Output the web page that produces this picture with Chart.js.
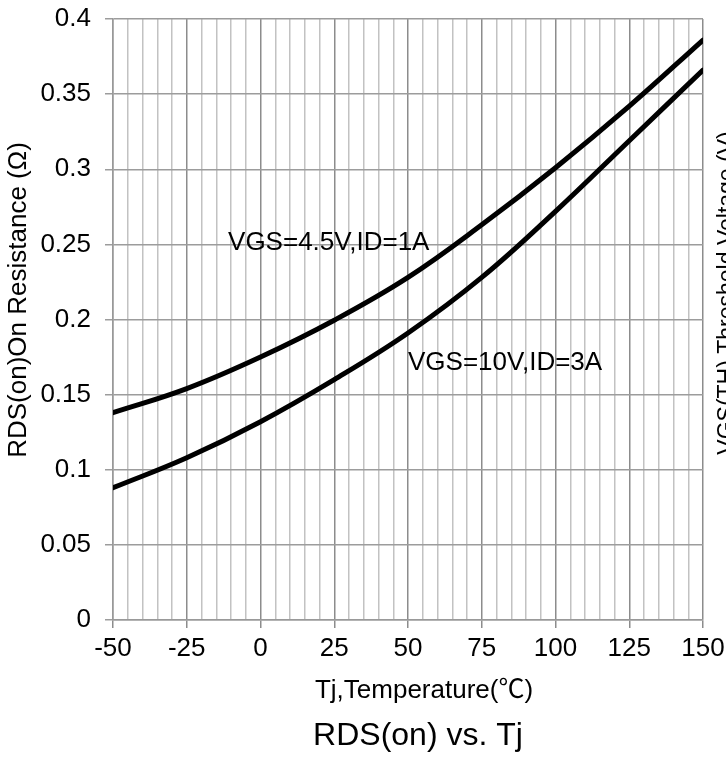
<!DOCTYPE html>
<html>
<head>
<meta charset="utf-8">
<script src="https://cdn.jsdelivr.net/npm/chart.js@4"></script>
<style>
  html, body { margin: 0; padding: 0; background: #fff; }
  canvas { display: block; }
</style>
</head>
<body>
<canvas id="c" width="726" height="762"></canvas>
<script>
const temps = [-50, -25, 0, 25, 50, 75, 100, 125, 150];
const rdsVgs45 = [0.138, 0.154, 0.175, 0.1995, 0.228, 0.263, 0.301, 0.342, 0.386];
const rdsVgs10 = [0.088, 0.108, 0.132, 0.160, 0.191, 0.228, 0.272, 0.319, 0.366];
const seriesNames = ['VGS=4.5V,ID=1A', 'VGS=10V,ID=3A'];
const xTickLabels = ['-50', '-25', '0', '25', '50', '75', '100', '125', '150'];
const yTickLabels = ['0', '0.05', '0.1', '0.15', '0.2', '0.25', '0.3', '0.35', '0.4'];
const labelX = [-11, 50];
const labelY = [0.251, 0.171];
const chartTitle = 'RDS(on) vs. Tj';
const xTitle = 'Tj,Temperature(℃)';
const yTitle = 'RDS(on)On Resistance (Ω)';
const rightTitle = 'VGS(TH) Threshold Voltage (V)';

const FONT = "'Liberation Sans', Arial, 'Noto Sans CJK SC', sans-serif";

const textPlugin = {
  id: 'texts',
  afterDraw(chart) {
    const ctx = chart.ctx;
    const xs = chart.scales.x, ys = chart.scales.y;
    const ca = chart.chartArea;
    ctx.save();
    ctx.fillStyle = '#000';
    ctx.textBaseline = 'middle';
    // curve labels
    ctx.font = '26px ' + FONT;
    ctx.textAlign = 'left';
    seriesNames.forEach((n, i) => {
      ctx.fillText(n, xs.getPixelForValue(labelX[i]), ys.getPixelForValue(labelY[i]));
    });
    // x axis title and chart title
    ctx.textAlign = 'center';
    const cx = (ca.left + ca.right) / 2 + 14;
    ctx.font = '26px ' + FONT;
    ctx.fillText(xTitle, cx + 2, ca.bottom + 71);
    ctx.font = '32px ' + FONT;
    ctx.fillText(chartTitle, cx - 4, ca.bottom + 116);
    // y axis title
    ctx.save();
    ctx.translate(19, ca.top + 281);
    ctx.rotate(-Math.PI / 2);
    ctx.font = '26px ' + FONT;
    ctx.fillText(yTitle, 0, 0);
    ctx.restore();
    // clipped secondary axis title at right edge
    ctx.save();
    ctx.translate(chart.width + 2, ca.top + 274);
    ctx.rotate(-Math.PI / 2);
    ctx.font = '23px ' + FONT;
    ctx.fillText(rightTitle, 0, 0);
    ctx.restore();
    ctx.restore();
  }
};

new Chart(document.getElementById('c'), {
  type: 'line',
  data: {
    datasets: [
      { label: seriesNames[0], data: temps.map((t, i) => ({ x: t, y: rdsVgs45[i] })) },
      { label: seriesNames[1], data: temps.map((t, i) => ({ x: t, y: rdsVgs10[i] })) }
    ].map(d => Object.assign(d, {
      borderColor: '#000', borderWidth: 5, pointRadius: 0, fill: false,
      tension: 0.4, borderCapStyle: 'round'
    }))
  },
  options: {
    responsive: false,
    animation: false,
    layout: { padding: { top: 19, right: 23, left: 0, bottom: 0 } },
    plugins: {
      legend: { display: false },
      tooltip: { enabled: false },
      title: { display: false }
    },
    scales: {
      x: {
        type: 'linear', min: -50, max: 150,
        afterFit: s => { s.height = 142; s.paddingLeft = 0; s.paddingRight = 0; },
        border: { display: true, color: '#999', width: 1.5 },
        grid: {
          color: c => (c.tick && c.tick.value % 25 === 0) ? '#8c8c8c' : '#c2c2c2',
          tickColor: c => (c.tick && c.tick.value % 25 === 0) ? '#8c8c8c' : 'rgba(0,0,0,0)',
          lineWidth: 1.5, tickLength: 8, drawOnChartArea: true
        },
        ticks: {
          stepSize: 5, autoSkip: false, maxRotation: 0, color: '#000', padding: 5,
          font: { family: FONT, size: 26 },
          callback: v => (v % 25 === 0) ? xTickLabels[Math.round((v + 50) / 25)] : ''
        },
        title: { display: false }
      },
      y: {
        min: 0, max: 0.4,
        afterFit: s => { s.width = 113; s.paddingTop = 0; s.paddingBottom = 0; },
        border: { display: true, color: '#999', width: 1.5 },
        grid: { color: '#9c9c9c', tickColor: '#9c9c9c', lineWidth: 1.5, tickLength: 8 },
        ticks: {
          stepSize: 0.05, color: '#000', padding: 14,
          font: { family: FONT, size: 26 },
          callback: (v, i) => yTickLabels[i]
        },
        title: { display: false }
      }
    }
  },
  plugins: [textPlugin]
});
</script>
</body>
</html>
